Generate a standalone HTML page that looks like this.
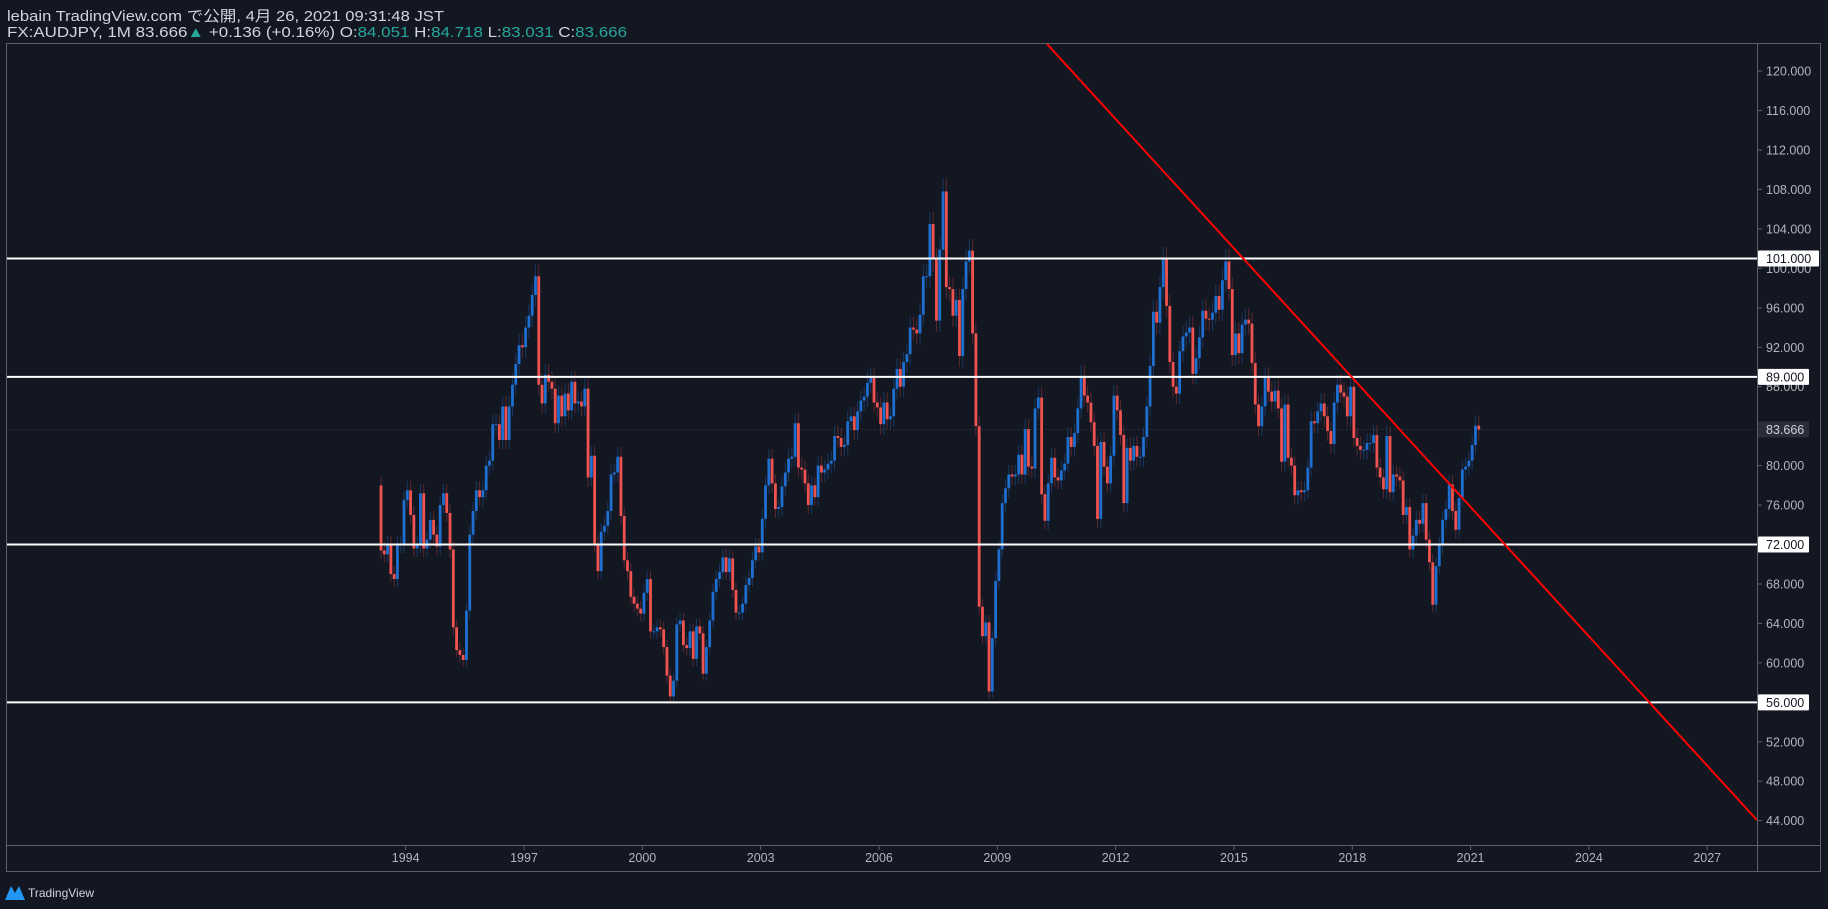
<!DOCTYPE html>
<html><head><meta charset="utf-8"><style>
html,body{margin:0;padding:0;background:#131722;width:1828px;height:909px;overflow:hidden}
svg{display:block}
text{font-family:"Liberation Sans","Noto Sans CJK JP",sans-serif}
</style></head><body>
<svg id="chart" width="1828" height="909" viewBox="0 0 1828 909">
<rect x="0" y="0" width="1828" height="909" fill="#131722"/>
<text x="7" y="21" font-size="15" fill="#d1d4dc" textLength="437" lengthAdjust="spacingAndGlyphs">lebain TradingView.com で公開, 4月 26, 2021 09:31:48 JST</text>
<text x="7" y="37" font-size="15" fill="#d1d4dc" textLength="620" lengthAdjust="spacingAndGlyphs">FX:AUDJPY, 1M 83.666<tspan fill="#26a69a">▲</tspan> +0.136 (+0.16%) O:<tspan fill="#26a69a">84.051</tspan> H:<tspan fill="#26a69a">84.718</tspan> L:<tspan fill="#26a69a">83.031</tspan> C:<tspan fill="#26a69a">83.666</tspan></text>
<g id="plot"></g>
<rect x="6.5" y="43.5" width="1814" height="828" fill="none" stroke="#5d606b"/>
<line x1="1757.5" y1="43" x2="1757.5" y2="871" stroke="#5d606b"/>
<line x1="6" y1="845.5" x2="1821" y2="845.5" stroke="#5d606b"/>
<g id="yaxis"></g>
<g id="xaxis"></g>
<g>
<path d="M5 900 L11 886 L15 893 L19 886 L25 900 Z" fill="#2196f3"/>
<text x="28" y="897" font-size="12" fill="#d1d4dc">TradingView</text>
</g>
</svg>
<script>
const startYear=1993, startMonth=4; // May 1993 (0-based month)
const firstOpen=78;
const closes=[
71.4,71,72,69,68.5,72,72,76.5,77.5,75,71.6,72,77.2,71.6,72.5,74.5,73,71.8,76,77.2,
75.2,71.5,63.6,61.3,60.8,60.3,65.3,73,75.4,77.5,76.8,77.5,80,80.5,84.2,84.2,82.6,86,82.6,86,
88.2,90.3,92.2,92,94,95.2,97.3,99.2,88.2,86.3,89.2,88.5,87.8,84.3,87.1,85,87.3,85.6,88.5,86.3,
86.5,86,87.8,
78.8,81,72.1,69.3,73.3,73.9,75.4,79.1,79.3,80.9,74.9,70.4,69.3,66.7,66,65.5,65,67.1,68.5,63.2,63.2,63.6,
63.4,61.6,58.7,56.6,58.2,63.9,64.3,61.8,61.5,63.2,60.4,63.7,63,58.9,61.6,64.3,67.2,68.5,69.2,70.7,
69.2,70.6,67.4,65.1,65.1,66,67.9,68.6,70.4,71.8,71.2,74.6,78,80.7,78.2,75.6,75.8,77.9,79.3,80.7,
80.9,84.3,79.8,79.6,78.2,76,78,76.8,80,79.3,79.6,80.2,80.5,83,82.8,81.9,82.1,84.5,85,83.6,85.5,
86.6,87,88.4,88.9,86.4,85.9,84.2,86.4,84.7,85,87.8,89.8,88,90.5,91.3,94,93.8,93.4,95.3,99.2,
99.2,104.5,100.9,94.7,101.9,107.8,98.1,97.9,95.2,96.8,91.1,97.9,100.7,101.8,93.4,84,65.7,62.7,64.1,57.1,
62.5,68.3,71.5,76.2,77.7,79.1,78.9,79.1,81.1,79.1,83.7,79.9,79.7,85.8,86.9,77.1,74.4,78.2,80.8,78.8,78.5,79.5,
80.2,82.9,81.9,83.3,85.8,89.1,87.1,86.4,84.4,82,74.6,82.4,79.9,78.2,81,87.1,85.6,83.1,76.2,81.8,80.5,
82,80.9,80.9,82.9,86,90.1,95.6,94.5,98.1,101,96.2,90.5,88,87.3,91.6,93.1,93.5,94,89.3,90.9,93,
95.7,94.9,94.8,95.5,97.2,95.8,98.8,100.7,97.9,91.2,93.4,91.4,94.3,94.8,94.4,90.4,86.2,84,86,88.9,87.5,86.5,
87.6,85.8,80.4,86.2,80.8,80,77,77.5,77.3,77.5,79.8,84.5,84.3,85.5,86.3,85,83.5,82.2,86.4,88.2,
87.4,87,85,88,82.8,82,81.6,81.6,82.3,82.3,83.1,79.8,78.8,77.6,83,77.3,79.1,78.9,78.5,75,75.8,
71.5,72.9,74.5,74.1,76.2,72.5,70.2,65.9,69.8,71.9,74.5,75.6,78.1,75.4,73.5,76.7,79.6,79.9,80.5,82.1,84.05,83.666
];
const priceTicks=[120,116,112,108,104,100,96,92,88,84,80,76,72,68,64,60,56,52,48,44];
const yearTicks=[1994,1997,2000,2003,2006,2009,2012,2015,2018,2021,2024,2027];
const levels=[101,89,72,56];
const lastPrice=83.666;
const trendStart={year:2010.26,price:122.75};
const trendEnd={year:2028.26,price:44.07};

const NS='http://www.w3.org/2000/svg';
function y(p){return 71.1+(120-p)*9.863;}
function xYear(yr){return 405.7+(yr-1994)*39.44;}
function xMonth(i){const yr=startYear+(startMonth+i)/12;return xYear(yr)+1.6;}
function mk(tag,attrs,parent){const e=document.createElementNS(NS,tag);for(const k in attrs)e.setAttribute(k,attrs[k]);parent.appendChild(e);return e;}
const plot=document.getElementById('plot');
const yax=document.getElementById('yaxis');
const xax=document.getElementById('xaxis');

const lp=mk('line',{x1:6,x2:1757,y1:y(lastPrice),y2:y(lastPrice),stroke:'#434651','stroke-dasharray':'1 3'},plot);



let prev=firstOpen;
closes.forEach((c,i)=>{
  const o=prev; prev=c;
  const up=c>=o;
  const cx=xMonth(i);
  const hi=Math.max(o,c)*1.012, lo=Math.min(o,c)*0.988;
  const w=mk('line',{x1:cx,x2:cx,y1:y(hi),y2:y(lo),stroke:up?'#1c4f8f':'#8a3438','stroke-width':1,'stroke-opacity':0.6},plot);
  
  
  const top=y(Math.max(o,c)), bot=y(Math.min(o,c));
  const b=mk('rect',{x:cx-1.4,y:top,width:2.8,height:Math.max(1,bot-top),fill:up?'#1e6fd0':'#ef5350'},plot);
  
  
});

levels.forEach(l=>{
  const ln=mk('line',{x1:6,x2:1757,y1:y(l),y2:y(l),stroke:'#ffffff','stroke-width':2},plot);
  
  
});

const tl=mk('line',{x1:xYear(trendStart.year),y1:y(trendStart.price),x2:xYear(trendEnd.year),y2:y(trendEnd.price),stroke:'#ff0000','stroke-width':2},plot);


const cp=mk('clipPath',{id:'pc'},document.getElementById('chart'));
mk('rect',{x:6,y:44,width:1751,height:801},cp);
plot.setAttribute('clip-path','url(#pc)');

priceTicks.forEach(p=>{
  const t=mk('line',{x1:1758,x2:1762,y1:y(p),y2:y(p),stroke:'#5d606b'},yax);
  
  
  const tx=mk('text',{x:1766,y:y(p)+4.5,'font-size':12.5,fill:'#b2b5be'},yax);
  tx.textContent=p.toFixed(3);
  
  
});
levels.forEach(l=>{
  const w=l>=100?61:51;
  const r=mk('rect',{x:1758,y:y(l)-8,width:w,height:16,fill:'#ffffff',rx:1},yax);
  
  
  const tx=mk('text',{x:1766,y:y(l)+4.5,'font-size':12.5,fill:'#131722'},yax);
  tx.textContent=l.toFixed(3);
  
  
});
const lr=mk('rect',{x:1758,y:y(lastPrice)-8,width:51,height:16,fill:'#2a2e39'},yax);


const lt=mk('text',{x:1766,y:y(lastPrice)+4.5,'font-size':12.5,fill:'#d1d4dc'},yax);
lt.textContent=lastPrice.toFixed(3);



yearTicks.forEach(yr=>{
  const x=xYear(yr);
  const t=mk('line',{x1:x,x2:x,y1:846,y2:850,stroke:'#5d606b'},xax);
  
  
  const tx=mk('text',{x:x,y:862,'font-size':12.5,fill:'#b2b5be','text-anchor':'middle'},xax);
  tx.textContent=yr;
  
  
});
</script>
</body></html>
